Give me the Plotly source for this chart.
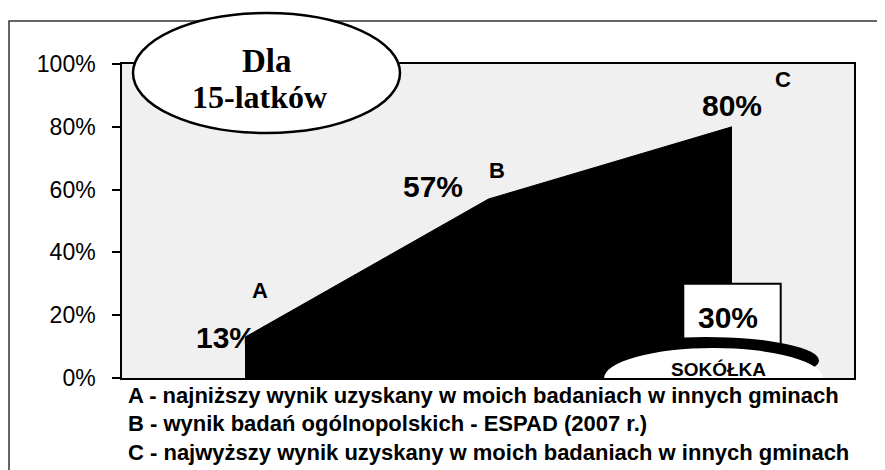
import plotly.graph_objects as go

# ---- data ----
categories = ["A", "B", "C"]
values = [0.13, 0.57, 0.80]
value_labels = ["13%", "57%", "80%"]
sokolka_value = 0.30
sokolka_label = "30%"
sokolka_name = "SOKÓŁKA"
title_lines = ["Dla", "15-latków"]
y_ticks = [0, 0.2, 0.4, 0.6, 0.8, 1.0]
y_tick_labels = ["0%", "20%", "40%", "60%", "80%", "100%"]
legend_lines = [
    "A - najniższy wynik uzyskany w moich badaniach w innych gminach",
    "B - wynik badań ogólnopolskich - ESPAD (2007 r.)",
    "C - najwyższy wynik uzyskany w moich badaniach w innych gminach",
]

xs = list(range(len(categories)))
SANS = "Liberation Sans, Arial, sans-serif"
SERIF = "Liberation Serif, Times New Roman, serif"

fig = go.Figure()
# black area A-B-C
fig.add_trace(go.Scatter(
    x=xs, y=values, mode="lines", fill="tozeroy",
    fillcolor="black", line=dict(color="black", width=1),
    hoverinfo="skip", showlegend=False,
))
# white "Sokółka" column at category C (filled polygon so it sits above the area)
bw = 0.2
cx = xs[-1]
fig.add_trace(go.Scatter(
    x=[cx - bw, cx - bw, cx + bw, cx + bw, cx - bw],
    y=[0, sokolka_value, sokolka_value, 0, 0],
    mode="lines", fill="toself", fillcolor="white",
    line=dict(color="black", width=2),
    hoverinfo="skip", showlegend=False,
))

# page geometry (pixels in the browser page); the page body has an 8px margin
OFF = 8
PW, PH = 885, 470
L, R, T, B = 122, 854, 64, 378
W, H = PW - OFF, PH - OFF

def px(x):
    return (x - L) / (R - L)

def py(y):
    return (B - y) / (B - T)

# data-coordinate helpers for decorations (x: category index, y: fraction)
X0PIX, XSTEP = 245.0, 243.5
def dx(x):
    return (x - X0PIX) / XSTEP

def dy(y):
    return (B - y) / (B - T)

shapes = [
    # outer frame (extends beyond the picture on right and bottom)
    dict(type="rect", xref="paper", yref="paper",
         x0=px(9), x1=px(900), y0=py(490), y1=py(21),
         line=dict(color="#333333", width=1.5), fillcolor="rgba(0,0,0,0)"),
    # title ellipse
    dict(type="circle", xref="paper", yref="paper",
         x0=px(133), x1=px(400), y0=py(133), y1=py(13),
         line=dict(color="black", width=2.5), fillcolor="white"),
    # Sokółka swoosh: black ellipse + white ellipse (clipped by plot area)
    dict(type="circle", xref="x", yref="y",
         x0=dx(593), x1=dx(819), y0=dy(384), y1=dy(337),
         line=dict(width=0), fillcolor="black"),
    dict(type="circle", xref="x", yref="y",
         x0=dx(604), x1=dx(823), y0=dy(409), y1=dy(348),
         line=dict(width=0), fillcolor="white"),
]

annotations = []
# title text
annotations.append(dict(text=f"<b>{title_lines[0]}</b>", xref="paper", yref="paper",
                        x=px(267), y=py(61), xanchor="center", yanchor="middle",
                        showarrow=False,
                        font=dict(family=SERIF, size=33, color="black")))
annotations.append(dict(text=f"<b>{title_lines[1]}</b>", xref="paper", yref="paper",
                        x=px(259), y=py(97), xanchor="center", yanchor="middle",
                        showarrow=False,
                        font=dict(family=SERIF, size=32, color="black")))

# value labels and letters
val_shifts = [(-19, 0), (-56, 13), (0, 21)]
let_shifts = [(15, 47), (8, 29), (51, 47)]
for i, (c, v, lab) in enumerate(zip(categories, values, value_labels)):
    annotations.append(dict(text=f"<b>{lab}</b>", xref="x", yref="y", x=xs[i], y=v,
                            xshift=val_shifts[i][0], yshift=val_shifts[i][1],
                            xanchor="center", yanchor="middle", showarrow=False,
                            font=dict(family=SANS, size=30, color="black")))
    annotations.append(dict(text=f"<b>{c}</b>", xref="x", yref="y", x=xs[i], y=v,
                            xshift=let_shifts[i][0], yshift=let_shifts[i][1],
                            xanchor="center", yanchor="middle", showarrow=False,
                            font=dict(family=SANS, size=22, color="black")))

annotations.append(dict(text=f"<b>{sokolka_label}</b>", xref="x", yref="y",
                        x=cx, y=sokolka_value, xshift=-4, yshift=-34,
                        xanchor="center", yanchor="middle", showarrow=False,
                        font=dict(family=SANS, size=30, color="black")))
annotations.append(dict(text=f"<b>{sokolka_name}</b>", xref="paper", yref="paper",
                        x=px(718), y=py(369), xanchor="center", yanchor="middle",
                        showarrow=False,
                        font=dict(family=SANS, size=19, color="black")))

for ypix, line in zip([395, 423, 452], legend_lines):
    annotations.append(dict(text=f"<b>{line}</b>", xref="paper", yref="paper",
                            x=px(126), y=py(ypix), xanchor="left", yanchor="middle",
                            showarrow=False,
                            font=dict(family=SANS, size=22, color="black")))

fig.update_layout(
    width=W, height=H,
    margin=dict(l=L - OFF, r=PW - R, t=T - OFF, b=PH - B, autoexpand=False),
    paper_bgcolor="white",
    plot_bgcolor="#f0f0f0",
    showlegend=False,
    shapes=shapes,
    annotations=annotations,
)
fig.update_xaxes(range=[dx(L), dx(R)], showticklabels=False, ticks="",
                 showgrid=False, zeroline=False,
                 showline=True, linecolor="black", linewidth=1.5, mirror=True)
fig.update_yaxes(range=[0, 1], tickvals=y_ticks, ticktext=y_tick_labels,
                 ticks="outside", ticklen=8, tickcolor="black", tickwidth=1.5,
                 ticklabelstandoff=12,
                 tickfont=dict(family=SANS, size=23, color="black"),
                 showgrid=False, zeroline=False,
                 showline=True, linecolor="black", linewidth=1.5, mirror=True)

fig.write_html("out.html")
